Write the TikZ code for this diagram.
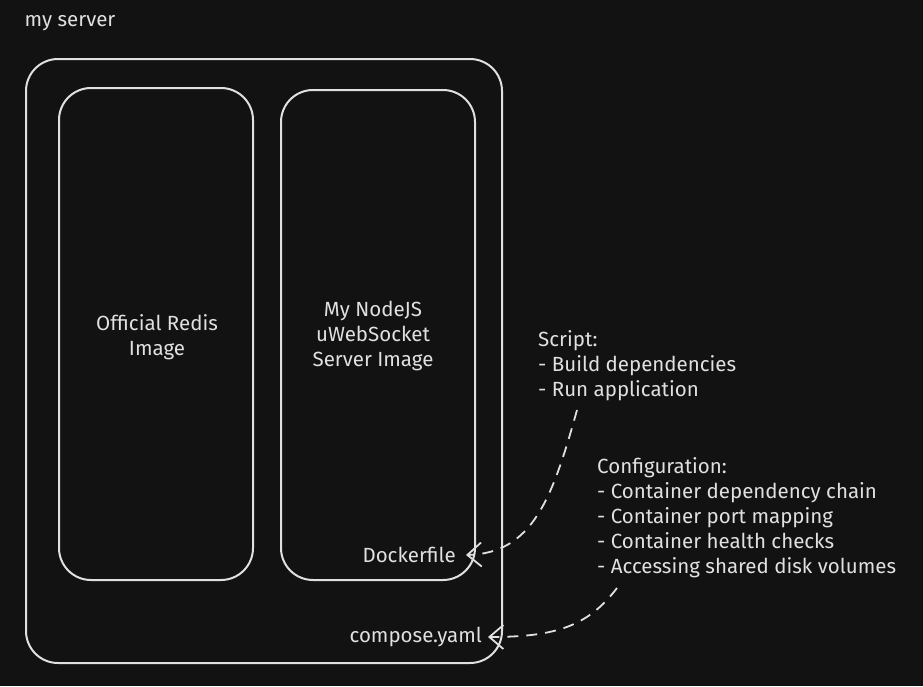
\documentclass[tikz,border=0pt]{standalone}
\usepackage{fontspec}
\setmainfont{Fira Sans}
\usepackage{xcolor}
\usetikzlibrary{arrows.meta}
\definecolor{bgdark}{HTML}{121212}
\definecolor{chalk}{HTML}{E0E0E0}
\tikzset{box/.style={draw=chalk,line width=2pt,rounded corners=32pt},
         lbl/.style={text=chalk,inner sep=0pt,font=\fontsize{20.5}{25}\selectfont},
         link/.style={draw=chalk,line width=1.8pt,dash pattern=on 11pt off 8pt,
                      -{Straight Barb[length=14pt,width=24pt,line width=1.8pt]}}}

\begin{document}
\begin{tikzpicture}[x=1pt,y=-1pt]
    \fill[bgdark] (0,0) rectangle (923,686);
    \useasboundingbox (0,0) rectangle (923,686);

    \draw[box] (26,59) rectangle (502,663);
    \draw[box] (59,88) rectangle (253,580);
    \draw[box] (281,90) rectangle (475,580);

    \node[lbl] (server) at (70,23) {my server};
    \node[lbl,align=center] (redis) at (157,337) {Official Redis\\Image};
    \node[lbl,align=center] (nodeimg) at (373,336) {My NodeJS\\uWebSocket\\Server Image};
    \node[lbl,anchor=east] (docker) at (456,555) {Dockerfile};
    \node[lbl,anchor=east] (compose) at (482,637) {compose.yaml};
    \node[lbl,align=left,anchor=west] (script) at (538,366)
        {Script:\\- Build dependencies\\- Run application};
    \node[lbl,align=left,anchor=west] (config) at (597,518)
        {Configuration:\\- Container dependency chain\\- Container port mapping\\- Container health checks\\- Accessing shared disk volumes};

    \coordinate (scripttail) at (577,410);
    \coordinate (configtail) at (617,588);

    \draw[link] (scripttail) .. controls (552,500) and (532,553) .. ([xshift=10pt]docker.east);
    \draw[link] (configtail) .. controls (588,626) and (556,637) .. ([xshift=6pt]compose.east);
\end{tikzpicture}
\end{document}
